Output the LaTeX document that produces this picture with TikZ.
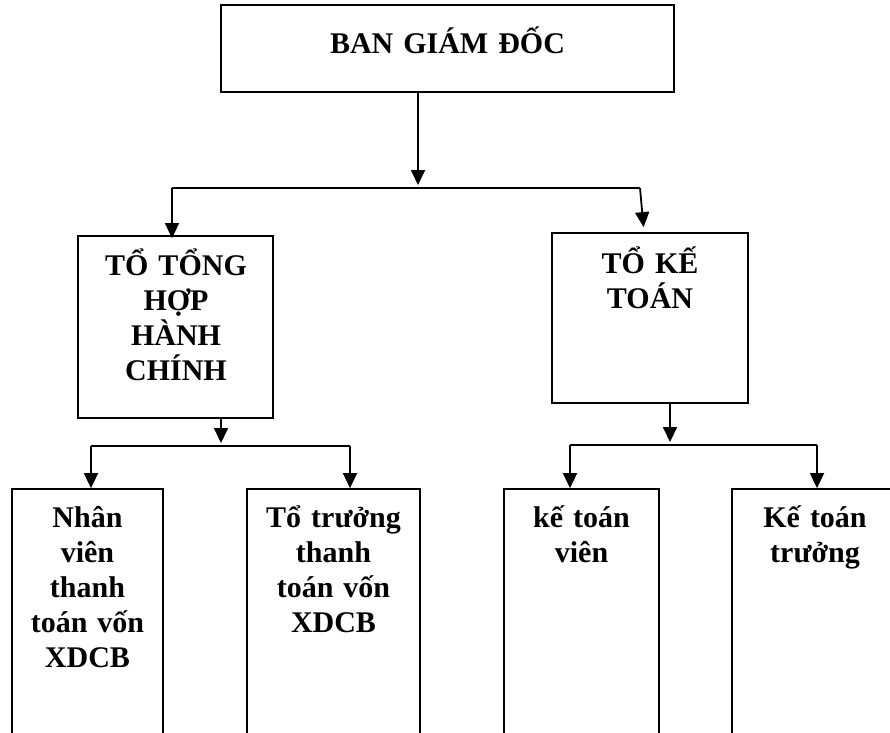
\documentclass[tikz,border=0pt]{standalone}
\usepackage{fontspec}
\setmainfont{Liberation Serif}
\usetikzlibrary{arrows.meta}

\tikzset{
  box/.style={draw=black, line width=1.8pt, fill=none, inner sep=0pt},
  lbl/.style={inner sep=0pt, text width=300pt, align=center,
    font=\fontsize{30}{35}\selectfont\bfseries},
  conn/.style={draw=black, line width=1.8pt},
  arrowed/.style={conn, -{Triangle[width=14pt,length=15pt]}}
}

\begin{document}
\begin{tikzpicture}[x=1pt, y=-1pt]
  \useasboundingbox (0,0) rectangle (890,732);
  \clip (0,0) rectangle (890,732);

  % boxes
  \node[box, minimum width=453pt, minimum height=87pt] (top) at (447.5,48.5) {};
  \node[box, minimum width=195pt, minimum height=182pt] (ml) at (175.5,327) {};
  \node[box, minimum width=196pt, minimum height=170pt] (mr) at (650,318) {};
  \node[box, minimum width=151pt, minimum height=256pt] (b1) at (87.5,617) {};
  \node[box, minimum width=173pt, minimum height=256pt] (b2) at (333.5,617) {};
  \node[box, minimum width=155pt, minimum height=256pt] (b3) at (581.5,617) {};
  \node[box, minimum width=166pt, minimum height=256pt] (b4) at (815,617) {};

  % labels (first baseline placed at the anchor)
  \node[lbl, anchor=base] (ttop) at (447.5,53) {BAN GIÁM ĐỐC};
  \node[lbl, anchor=base] (tml) at (176,275) {TỔ TỔNG\\HỢP\\HÀNH\\CHÍNH};
  \node[lbl, anchor=base] (tmr) at (650,273) {TỔ KẾ\\TOÁN};
  \node[lbl, anchor=base] (tb1) at (87.5,527) {Nhân\\viên\\thanh\\toán vốn\\XDCB};
  \node[lbl, anchor=base] (tb2) at (333.5,527) {Tổ trưởng\\thanh\\toán vốn\\XDCB};
  \node[lbl, anchor=base] (tb3) at (581.5,527) {kế toán\\viên};
  \node[lbl, anchor=base] (tb4) at (815,527) {Kế toán\\trưởng};

  % junction points of the connector buses
  \coordinate (j0) at (418,188);
  \coordinate (jl) at (172,188);
  \coordinate (jr) at (640,188);
  \coordinate (j2) at (221,446);
  \coordinate (j2l) at (91,446);
  \coordinate (j2r) at (350,446);
  \coordinate (j3) at (670,445);
  \coordinate (j3l) at (570,445);
  \coordinate (j3r) at (817,445);

  % first level
  \draw[arrowed, shorten >=3pt] (top.south -| j0) -- (j0);
  \draw[conn] (jl) -- (jr);
  \draw[arrowed, shorten >=-3pt] (jl) -- (ml.north -| jl);
  \draw[arrowed, shorten >=5pt] (jr) -- ([xshift=4pt]mr.north -| jr);

  % second level, left branch
  \draw[arrowed, shorten >=3pt] (ml.south -| j2) -- (j2);
  \draw[conn] (j2l) -- (j2r);
  \draw[arrowed] (j2l) -- (b1.north -| j2l);
  \draw[arrowed] (j2r) -- (b2.north -| j2r);

  % second level, right branch
  \draw[arrowed, shorten >=3pt] (mr.south -| j3) -- (j3);
  \draw[conn] (j3l) -- (j3r);
  \draw[arrowed] (j3l) -- (b3.north -| j3l);
  \draw[arrowed] (j3r) -- (b4.north -| j3r);
\end{tikzpicture}
\end{document}
